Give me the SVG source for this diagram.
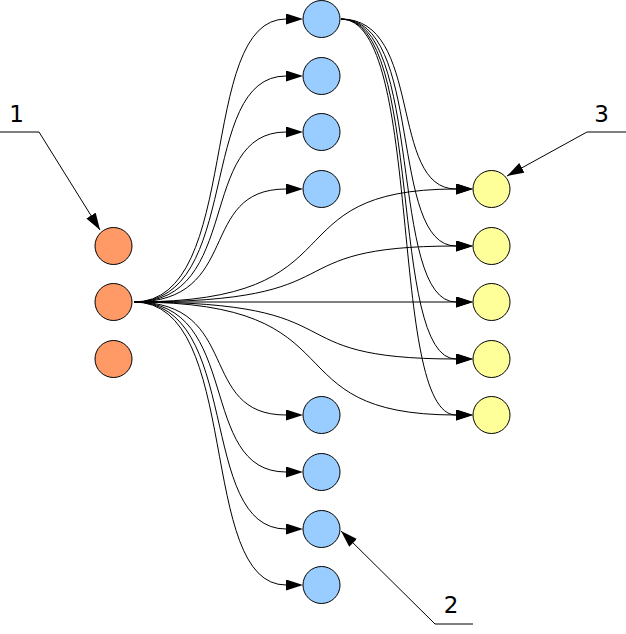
<svg xmlns="http://www.w3.org/2000/svg" width="626" height="634" viewBox="0 0 626 634">
<style>
.conn{fill:none;stroke:#000;stroke-width:1}
.orange{fill:#ff9966;stroke:#000;stroke-width:1}
.blue{fill:#99ccff;stroke:#000;stroke-width:1}
.yellow{fill:#ffff99;stroke:#000;stroke-width:1}
.lbl{font-family:"DejaVu Sans",sans-serif;font-size:23px;fill:#000;text-anchor:middle}
</style>
<defs>
<marker id="ah" markerUnits="userSpaceOnUse" markerWidth="18" markerHeight="12" refX="0" refY="5.5" orient="auto">
<path d="M0,0 L17,5.5 L0,11 z" fill="#000"/>
</marker>
<marker id="ahTip" markerUnits="userSpaceOnUse" markerWidth="18" markerHeight="12" refX="17" refY="5.5" orient="auto">
<path d="M0,0 L17,5.5 L0,11 z" fill="#000"/>
</marker>
</defs>
<g id="connectors">
<path class="conn" marker-end="url(#ah)" d="M134,302 C243,302 196,19 286,19"/>
<path class="conn" marker-end="url(#ah)" d="M134,302 C243,302 196,76 286,76"/>
<path class="conn" marker-end="url(#ah)" d="M134,302 C243,302 196,132 286,132"/>
<path class="conn" marker-end="url(#ah)" d="M134,302 C243,302 196,189 286,189"/>
<path class="conn" marker-end="url(#ah)" d="M134,302 C243,302 196,415 286,415"/>
<path class="conn" marker-end="url(#ah)" d="M134,302 C243,302 196,472 286,472"/>
<path class="conn" marker-end="url(#ah)" d="M134,302 C243,302 196,529 286,529"/>
<path class="conn" marker-end="url(#ah)" d="M134,302 C243,302 196,585 286,585"/>
<path class="conn" marker-end="url(#ah)" d="M134,302 C366,302 266,189 456,189"/>
<path class="conn" marker-end="url(#ah)" d="M134,302 C366,302 266,246 456,246"/>
<path class="conn" marker-end="url(#ah)" d="M134,302 L456,302"/>
<path class="conn" marker-end="url(#ah)" d="M134,302 C366,302 266,359 456,359"/>
<path class="conn" marker-end="url(#ah)" d="M134,302 C366,302 266,415 456,415"/>
<path class="conn" marker-end="url(#ah)" d="M341,19 C424,19 388,189 456,189"/>
<path class="conn" marker-end="url(#ah)" d="M341,19 C424,19 388,246 456,246"/>
<path class="conn" marker-end="url(#ah)" d="M341,19 C424,19 388,302 456,302"/>
<path class="conn" marker-end="url(#ah)" d="M341,19 C424,19 388,359 456,359"/>
<path class="conn" marker-end="url(#ah)" d="M341,19 C424,19 388,415 456,415"/>
<path class="conn" marker-end="url(#ahTip)" d="M0,132 H39 L100,230"/>
<path class="conn" marker-end="url(#ahTip)" d="M626,132 H587 L507,176"/>
<path class="conn" marker-end="url(#ahTip)" d="M473,624 H435 L341,531"/>
</g>
<g id="o1"><circle class="orange" cx="113.5" cy="246" r="18.5"/></g>
<g id="o2"><circle class="orange" cx="113.5" cy="302" r="18.5"/></g>
<g id="o3"><circle class="orange" cx="113.5" cy="359" r="18.5"/></g>
<g id="b1"><circle class="blue" cx="321.5" cy="19" r="18.5"/></g>
<g id="b2"><circle class="blue" cx="321.5" cy="76" r="18.5"/></g>
<g id="b3"><circle class="blue" cx="321.5" cy="132" r="18.5"/></g>
<g id="b4"><circle class="blue" cx="321.5" cy="189" r="18.5"/></g>
<g id="b5"><circle class="blue" cx="321.5" cy="415" r="18.5"/></g>
<g id="b6"><circle class="blue" cx="321.5" cy="472" r="18.5"/></g>
<g id="b7"><circle class="blue" cx="321.5" cy="529" r="18.5"/></g>
<g id="b8"><circle class="blue" cx="321.5" cy="585" r="18.5"/></g>
<g id="y1"><circle class="yellow" cx="491.5" cy="189" r="18.5"/></g>
<g id="y2"><circle class="yellow" cx="491.5" cy="246" r="18.5"/></g>
<g id="y3"><circle class="yellow" cx="491.5" cy="302" r="18.5"/></g>
<g id="y4"><circle class="yellow" cx="491.5" cy="359" r="18.5"/></g>
<g id="y5"><circle class="yellow" cx="491.5" cy="415" r="18.5"/></g>
<g id="label1"><text class="lbl" x="16.5" y="122">1</text></g>
<g id="label3"><text class="lbl" x="601.5" y="122">3</text></g>
<g id="label2"><text class="lbl" x="451" y="613">2</text></g>
</svg>
